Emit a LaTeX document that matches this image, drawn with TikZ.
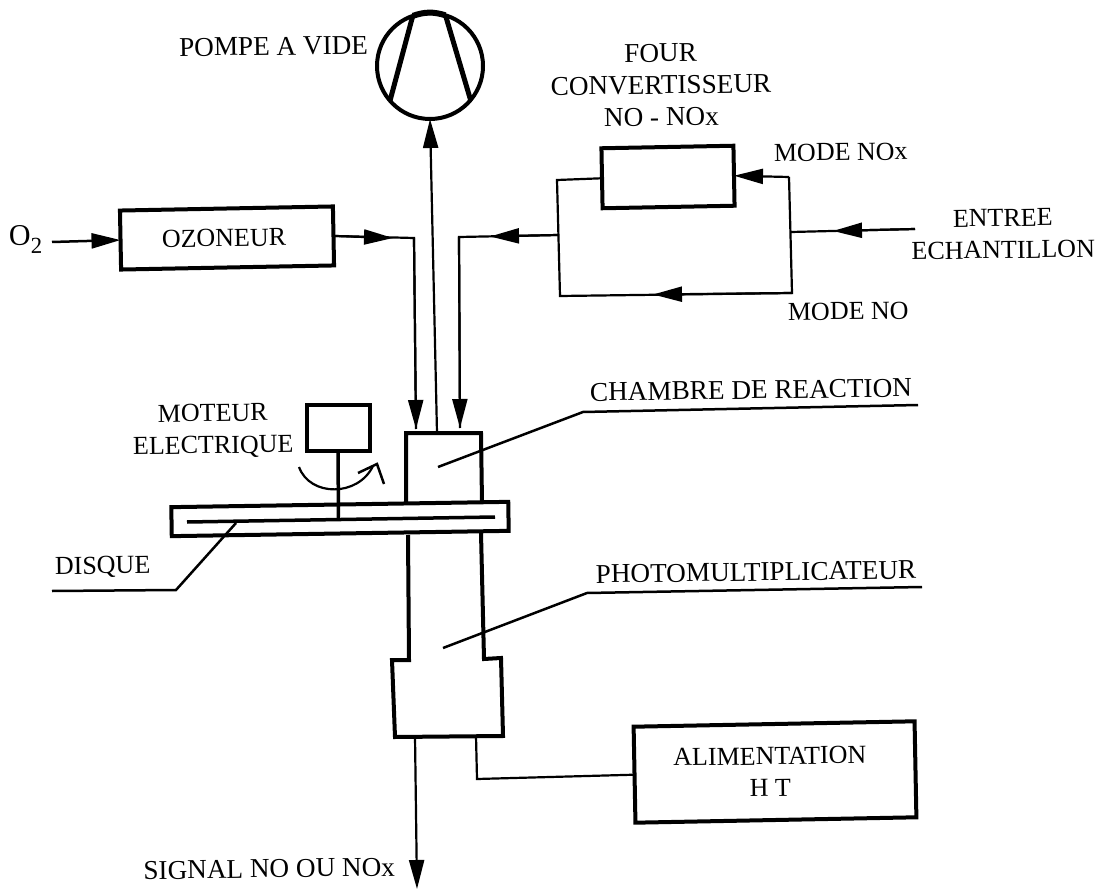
\documentclass[tikz,border=0pt]{standalone}
\usepackage{fontspec}
\setmainfont{Liberation Serif}
\usetikzlibrary{arrows.meta}
\tikzset{
  lbl/.style={inner sep=0pt,outer sep=0pt,rotate=0.8,align=center,font=\fontsize{26}{32}\selectfont},
  lblw/.style={lbl,font=\fontsize{27.2}{32}\selectfont},
  box/.style={draw,line width=4pt,rectangle,inner sep=0pt,outer sep=0pt,rotate=1.1},
  wire/.style={line width=2.2pt,line join=miter},
  lead/.style={line width=2.5pt,line join=miter},
  body/.style={line width=4pt,line join=miter},
  hd/.style={-{Triangle[length=29pt,width=15pt]}},
}
\begin{document}
\begin{tikzpicture}[x=1pt,y=-1pt]
\useasboundingbox (0,0) rectangle (1103,890);
% boxes
\node[box,minimum width=213pt,minimum height=59pt] (ozo) at (227,238) {};
\node[box,minimum width=132pt,minimum height=60pt] (four) at (668,177) {};
\node[box,minimum width=281pt,minimum height=96pt] (alim) at (775,772) {};
\node[box,minimum width=63pt,minimum height=47pt,rotate=-1.1] (mot) at (338,428) {};
\node[draw,circle,line width=4pt,minimum size=106pt,inner sep=0pt,outer sep=0pt] (pump) at (430,66) {};
% pump vanes
\draw[line width=5pt] (pump.109) -- (pump.221);
\draw[line width=5pt] (pump.73) -- (pump.-40);
\draw[line width=6pt] (pump.109) to[bend left=18] (pump.73);
% chamber, photomultiplier, disc
\coordinate (chA) at (406,504);
\coordinate (chB) at (406,433);
\coordinate (chC) at (481,433);
\coordinate (chD) at (482,503);
\draw[body] (chA) -- (chB) -- (chC) -- (chD);
\coordinate (pmA) at (408,535);
\coordinate (pmB) at (409,660);
\coordinate (pmC) at (392,660);
\coordinate (pmD) at (395,737);
\coordinate (pmE) at (503,736);
\coordinate (pmF) at (501,658);
\coordinate (pmG) at (484,659);
\coordinate (pmH) at (481,533);
\draw[body] (pmA) -- (pmB) -- (pmC) -- (pmD) -- (pmE) -- (pmF) -- (pmG) -- (pmH);
\node[box,minimum width=337pt,minimum height=29pt,rotate=-0.2] (disc) at (340,519) {};
\coordinate (dL) at (187,522);
\coordinate (dR) at (495,517);
\draw[line width=3.5pt] (dL) -- (dR);
\coordinate (shaft) at (338.5,519);
\draw[line width=3.5pt] (mot.south) -- (shaft);
% rotation arrow
\coordinate (rotA) at (299,467);
\coordinate (rotB) at (373,466);
\draw[line width=2.2pt] (rotA) .. controls (310,497) and (358,497) .. (rotB);
\coordinate (rh1) at (358,473);
\coordinate (rh2) at (377,464);
\coordinate (rh3) at (384,484);
\draw[line width=2.5pt,line join=miter] (rh1) -- (rh2) -- (rh3);
% O2 / ozoneur
\node[lbl,anchor=west,font=\fontsize{30}{30}\selectfont] (o2) at (9,240) {O\raisebox{-8pt}{\fontsize{23}{23}\selectfont 2}};
\coordinate (o2s) at (52,242);
\draw[wire,line width=2.5pt,hd] (o2s) -- (ozo.west);
\coordinate (ozt) at (393,238);
\coordinate (ozb) at (414,238);
\coordinate (ozi) at (416,429);
\draw[wire] (ozo.east) -- (ozb) -- (ozi);
\draw[wire,hd] (ozo.east) -- (ozt);
\draw[wire,hd] (ozb) -- (ozi);
% pump line
\coordinate (pin) at (437,433);
\draw[wire,hd] (pin) -- (pump.south);
% sample line
\coordinate (ent) at (915,229);
\coordinate (rj) at (791,232);
\coordinate (rt) at (789,177);
\coordinate (rb) at (792,293);
\coordinate (lb) at (560,296);
\coordinate (lt) at (557,180);
\coordinate (lj) at (558,235);
\coordinate (sb) at (459,237);
\coordinate (si) at (460,428);
\coordinate (t1) at (833,231);
\coordinate (t2) at (653,294.5);
\coordinate (t3) at (490,236.5);
\draw[wire] (ent) -- (rj);
\draw[wire,hd] (ent) -- (t1);
\draw[wire,hd] (rt) -- (four.east);
\draw[wire] (rt) -- (rb) -- (lb) -- (lt) -- (four.west);
\draw[wire,hd] (rb) -- (t2);
\draw[wire] (lj) -- (sb) -- (si);
\draw[wire,hd] (lj) -- (t3);
\draw[wire,hd] (sb) -- (si);
% signal, HT
\coordinate (sg) at (415,736);
\coordinate (sge) at (417,889);
\draw[wire,hd] (sg) -- (sge);
\coordinate (ht) at (476,736);
\coordinate (htb) at (477,779);
\draw[wire] (ht) -- (htb) -- (alim.west);
% leaders
\coordinate (l1a) at (438,467);
\coordinate (l1b) at (583,412);
\coordinate (l1c) at (918,405);
\draw[lead] (l1a) -- (l1b) -- (l1c);
\coordinate (l2a) at (443,648);
\coordinate (l2b) at (587,593);
\coordinate (l2c) at (922,587);
\draw[lead] (l2a) -- (l2b) -- (l2c);
\coordinate (l3a) at (236,523);
\coordinate (l3b) at (176,590);
\coordinate (l3c) at (52,591);
\draw[lead] (l3a) -- (l3b) -- (l3c);
% labels
\node[lbl] (tozo) at (224,238) {OZONEUR};
\node[lblw,anchor=east] (tpomp) at (368,45) {POMPE A VIDE};
\node[lblw] (tfour) at (661,85) {FOUR\\CONVERTISSEUR\\NO - NOx};
\node[lbl,anchor=west] (tnox) at (774,153) {MODE NOx};
\node[lbl,anchor=west] (tno) at (788,312) {MODE NO};
\node[lbl] (tent) at (1003,234) {ENTREE\\ECHANTILLON};
\node[lblw] (tch) at (751,390) {CHAMBRE DE REACTION};
\node[lblw] (tph) at (756,572) {PHOTOMULTIPLICATEUR};
\node[lbl,anchor=west] (tdi) at (55,568) {DISQUE};
\node[lbl] (tmo) at (213,431) {MOTEUR\\ELECTRIQUE};
\node[lbl] (tal) at (770,772) {ALIMENTATION\\H T};
\node[lblw,anchor=east] (tsi) at (395,867) {SIGNAL NO OU NOx};
\end{tikzpicture}
\end{document}
